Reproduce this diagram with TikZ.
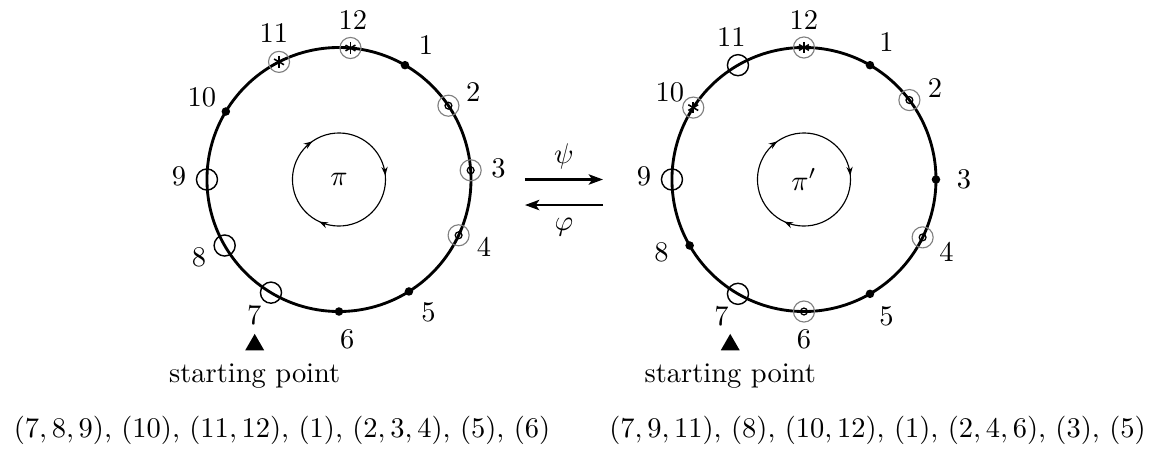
\documentclass[tikz,border=0pt]{standalone}
\usepackage{amsmath,amssymb}
\usetikzlibrary{arrows.meta,shapes.geometric,positioning,decorations.markings}

\begin{document}
\begin{tikzpicture}[
    dotm/.style={circle, fill, inner sep=0pt, minimum size=3pt},
    ringm/.style={circle, draw, line width=0.5pt, inner sep=0pt, minimum size=7.4pt},
    ringdot/.style={circle, draw=black!50, line width=0.4pt, inner sep=0pt, minimum size=7.4pt,
        path picture={\draw[black, line width=0.45pt] (path picture bounding box.center) circle (1.2pt);}},
    ringast/.style={circle, draw=black!50, line width=0.4pt, inner sep=0pt, minimum size=7.4pt,
        path picture={\foreach \t in {30,90,150} \draw[black, line width=0.55pt] (path picture bounding box.center) ++(\t:2pt) -- ++(\t+180:4pt);}},
    cyc/.style={line width=0.4pt, postaction={decorate}, decoration={markings,
        mark=at position 0.1667 with {\arrow{Stealth[length=3pt, width=2.2pt]}},
        mark=at position 0.5 with {\arrow{Stealth[length=3pt, width=2.2pt]}},
        mark=at position 0.8333 with {\arrow{Stealth[length=3pt, width=2.2pt]}}}},
    map/.style={-{Stealth[length=5pt, width=3.6pt, inset=1.2pt]}, line width=0.9pt},
    startmark/.style={regular polygon, regular polygon sides=3, fill, inner sep=0pt, minimum size=0.27cm}
]
\useasboundingbox (-4.183,-3.326) rectangle (10.119,2.215);
\coordinate (cL) at (0,0);
\coordinate (cR) at (5.738,0);

% left cycle pi
\begin{scope}[shift={(cL)}]
\draw[line width=1pt] (0,0) circle (1.629);
\draw[cyc] (185:0.574) arc[start angle=185, end angle=-175, radius=0.574];
\node (piL) at (0,0) {$\pi$};
\foreach \n/\a/\b/\m in {1/60/57/dotm, 2/34/33/ringdot, 3/4/4/ringdot, 4/-25/-25/ringdot,
    5/-58/-56/dotm, 6/-90/-87/dotm, 7/-121/-122/ringm, 8/-150/-151/ringm,
    9/180/179/ringm, 10/149/149/dotm, 11/117/114/ringast, 12/85/85/ringast}{
  \node[\m] (a\n) at (\a:1.629) {};
  \node (la\n) at (\b:1.974) {\n};
}
\node[startmark] (triL) at (-1.04,-2.04) {};
\node[below=1pt of triL] (spL) {starting point};
\node (tupL) at (-0.703,-3.10) {$(7,8,9)$, $(10)$, $(11,12)$, $(1)$, $(2,3,4)$, $(5)$, $(6)$};
\end{scope}

% maps between the two
\coordinate (psiA) at (2.295,0);
\coordinate (psiB) at (3.258,0);
\coordinate (phiA) at (3.258,-0.315);
\coordinate (phiB) at (2.295,-0.315);
\draw[map] (psiA) -- node[above] (psi) {$\psi$} (psiB);
\draw[map] (phiA) -- node[below=1pt] (phi) {$\varphi$} (phiB);

% right cycle pi'
\begin{scope}[shift={(cR)}]
\draw[line width=1pt] (0,0) circle (1.629);
\draw[cyc] (185:0.574) arc[start angle=185, end angle=-175, radius=0.574];
\node (piR) at (0,0) {$\pi'$};
\foreach \n/\a/\b/\m in {1/60/59/dotm, 2/37/35/ringdot, 3/0/0/dotm, 4/-26/-27/ringdot,
    5/-60/-59/dotm, 6/-90/-90/ringdot, 7/-120/-121/ringm, 8/-150/-153/dotm,
    9/180/179/ringm, 10/147/147/ringast, 11/120/117/ringm, 12/90/90/ringast}{
  \node[\m] (b\n) at (\a:1.629) {};
  \node (lb\n) at (\b:1.974) {\n};
}
\node[startmark] (triR) at (-0.91,-2.04) {};
\node[below=1pt of triR] (spR) {starting point};
\node (tupR) at (0.907,-3.10) {$(7,9,11)$, $(8)$, $(10,12)$, $(1)$, $(2,4,6)$, $(3)$, $(5)$};
\end{scope}
\end{tikzpicture}
\end{document}
